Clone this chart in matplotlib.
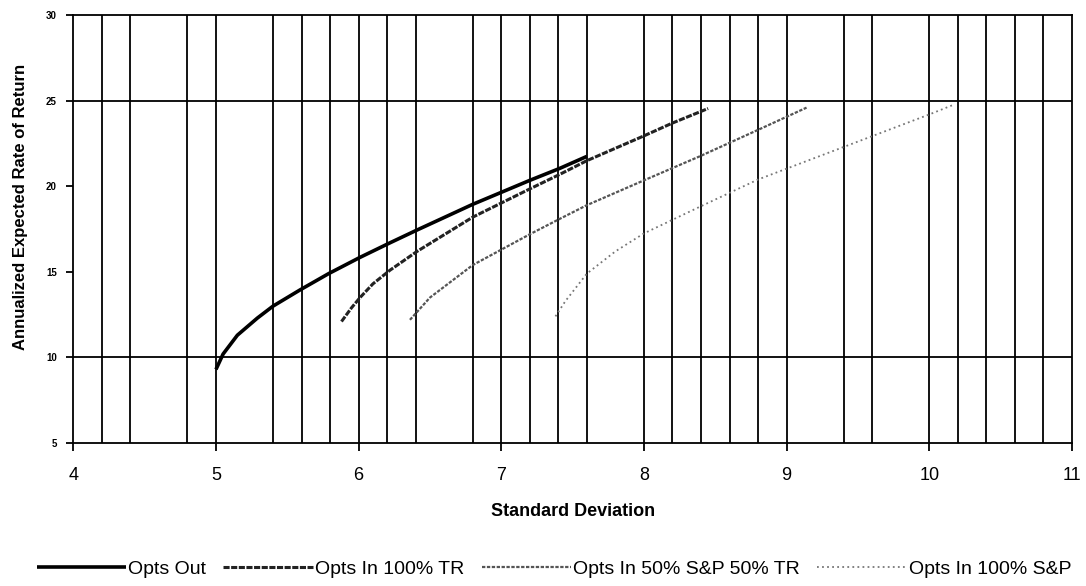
import matplotlib
matplotlib.use("Agg")
import matplotlib.pyplot as plt

# efficient frontiers
sd_out = [5.0, 5.05, 5.15, 5.29, 5.40, 5.59, 5.79, 6.01, 6.22, 6.41, 6.80, 7.20, 7.41, 7.60]
ret_out = [9.3, 10.2, 11.3, 12.3, 13.0, 13.95, 14.9, 15.85, 16.7, 17.45, 18.95, 20.35, 21.05, 21.75]

sd_tr = [5.88, 5.95, 6.01, 6.10, 6.22, 6.41, 6.80, 7.20, 7.41, 7.60, 8.0, 8.2, 8.45]
ret_tr = [12.1, 12.9, 13.5, 14.3, 15.1, 16.2, 18.2, 19.85, 20.7, 21.5, 22.95, 23.7, 24.55]

sd_mix = [6.36, 6.50, 6.80, 7.20, 7.41, 7.60, 8.0, 8.39, 8.8, 9.14]
ret_mix = [12.2, 13.5, 15.4, 17.2, 18.1, 18.9, 20.35, 21.75, 23.3, 24.6]

sd_sp = [7.38, 7.45, 7.6, 7.8, 8.0, 8.39, 8.8, 9.4, 10.0, 10.18]
ret_sp = [12.4, 13.3, 14.9, 16.2, 17.25, 18.8, 20.4, 22.3, 24.2, 24.8]

labels = ["Opts Out", "Opts In 100% TR", "Opts In 50% S&P 50% TR", "Opts In 100% S&P"]

# the scan lost a few of the vertical grid lines, keep the ones that show
grid_x = [4.2, 4.4, 4.8, 5.0, 5.4, 5.6, 5.8, 6.0, 6.2, 6.4, 6.8, 7.0, 7.2, 7.4, 7.6,
          8.0, 8.2, 8.4, 8.6, 8.8, 9.0, 9.4, 9.6, 10.0, 10.2, 10.4, 10.6, 10.8]
grid_y = [10, 25]

plt.rcParams['font.family'] = ["Liberation Sans", "DejaVu Sans"]

fig = plt.figure(figsize=(10.86, 5.86), dpi=100)
ax = fig.add_axes([0.0675, 0.244, 0.9195, 0.730])

for gx in grid_x:
    ax.axvline(gx, color="black", lw=1.3, zorder=1)
for gy in grid_y:
    ax.axhline(gy, color="black", lw=1.3, zorder=1)

ax.plot(sd_out, ret_out, color="black", lw=2.6, solid_capstyle="butt", zorder=5, label=labels[0])
ax.plot(sd_tr, ret_tr, color="#222222", lw=2.2, dashes=(2.0, 0.5), zorder=4, label=labels[1])
ax.plot(sd_mix, ret_mix, color="#555555", lw=1.6, dashes=(1.5, 0.7), zorder=3, label=labels[2])
ax.plot(sd_sp, ret_sp, color="#777777", lw=1.3, dashes=(1.0, 1.8), zorder=3, label=labels[3])

ax.set_xlim(4, 11)
ax.set_ylim(5, 30)
ax.set_xticks(range(4, 12))
ax.set_yticks(range(5, 31, 5))
ax.tick_params(axis="x", direction="out", length=6, width=1.3, labelsize=13, pad=11)
ax.tick_params(axis="y", direction="out", length=5, width=1.3, labelsize=7, pad=7)
for t in ax.get_yticklabels():
    t.set_fontweight("bold")
for s in ax.spines.values():
    s.set_linewidth(1.3)

ax.set_xlabel("Standard Deviation", fontsize=13, fontweight="bold", labelpad=14)
ax.set_ylabel("Annualized Expected Rate of Return", fontsize=12, fontweight="bold")
ax.yaxis.set_label_coords(-0.045, 0.551)

fig.legend(loc="center", bbox_to_anchor=(0.51, 0.029), ncol=4, frameon=False,
           fontsize=14, handlelength=4.6, handletextpad=0.1, columnspacing=0.9)

fig.savefig("out.png", dpi=100)
